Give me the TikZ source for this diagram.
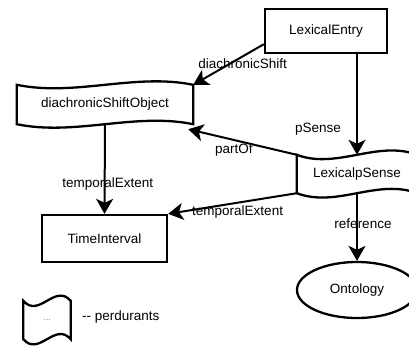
\documentclass[tikz,border=0pt]{standalone}
\usepackage{fontspec}
\setmainfont{Liberation Sans}
\usepackage{tikz}
\usetikzlibrary{arrows.meta}
\usetikzlibrary{calc,positioning,shapes.geometric}
\tikzstyle{box}=[line width=2.3pt,line join=miter]
\tikzstyle{entity}=[draw,box,inner sep=2pt]
\tikzstyle{tape}=[inner sep=2pt]
\tikzstyle{concept}=[draw,box,ellipse,inner sep=2pt]
\tikzstyle{lbl}=[inner sep=1pt]
\tikzstyle{relhead}=[>/.tip={Stealth[length=15pt,width=17pt,inset=4pt]}]
\tikzstyle{rel}=[line width=2pt,relhead,->]
% wavy outline round a tape node
\newcommand\tapeline[2]{%
  \draw[box] (#1.north west)
    .. controls ($(#1.north west)!.33!(#1.north east)+(0,#2)$) and ($(#1.north west)!.67!(#1.north east)-(0,#2)$) .. (#1.north east)
    -- (#1.south east)
    .. controls ($(#1.south west)!.67!(#1.south east)-(0,#2)$) and ($(#1.south west)!.33!(#1.south east)+(0,#2)$) .. (#1.south west)
    -- cycle;}
\begin{document}
\begin{tikzpicture}[x=1pt,y=-1pt,font=\fontsize{13.5}{16}\selectfont]
	\useasboundingbox (0,0) rectangle (409,349);
	\node[entity,minimum width=122pt,minimum height=44pt] (le)   at (326,31)    {LexicalEntry};
	\node[tape,minimum width=176pt,minimum height=39pt]   (dso)  at (105,104.5) {diachronicShiftObject};
	\node[tape,minimum width=120pt,minimum height=38pt]   (lps)  at (357,174)   {LexicalpSense};
	\node[entity,minimum width=125pt,minimum height=47pt] (ti)   at (104.5,238.5) {TimeInterval};
	\node[concept,minimum width=120pt,minimum height=56pt] (onto) at (357,290)  {Ontology};
	\node[tape,minimum width=47pt,minimum height=38pt]    (leg)  at (47,320)    {\fontsize{9}{10}\selectfont\color{gray}...};
	\node[right=8pt of leg.east,yshift=3pt] (legtxt) {-{}- perdurants};
	\tapeline{dso}{12}
	\tapeline{lps}{15}
	\tapeline{leg}{18}
	\draw[rel] (le.192) --node[lbl,below,pos=.3]{diachronicShift} (dso.north east);
	\draw[rel] (le.south -| lps.north) --node[lbl,left=14pt,pos=.75]{pSense} (lps.north);
	\draw[rel] (lps.north west) --node[lbl,below=1.5pt,pos=.58]{partOf} ($(dso.south east)+(-5,5)$);
	\draw[rel] (dso.south) --node[lbl,pos=.67,xshift=3pt]{temporalExtent} (ti.north);
	\draw[rel] (lps.south west) --node[lbl,below=1.5pt,pos=.46]{temporalExtent} (ti.north east);
	\draw[rel] (lps.south) --node[lbl,pos=.45,xshift=6pt]{reference} (onto.north);
\end{tikzpicture}
\end{document}
